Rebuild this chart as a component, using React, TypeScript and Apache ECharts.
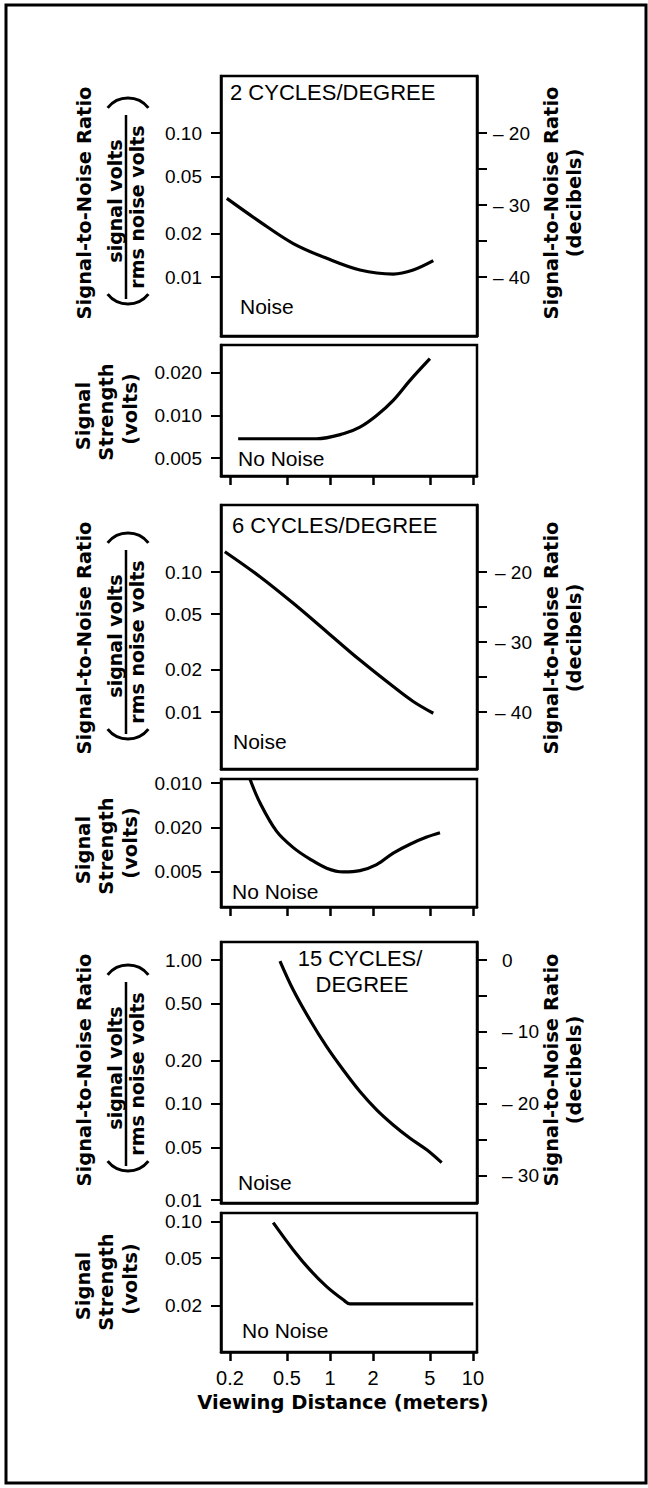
import React, { useEffect, useRef } from 'react';
import * as echarts from 'echarts';

// ---------- data ----------
const xTickValues = [0.2, 0.5, 1, 2, 5, 10];
const xTickLabels = ['0.2', '0.5', '1', '2', '5', '10'];

// 2 cycles/degree
const snr2Dist = [0.19, 0.324, 0.554, 0.948, 1.62, 2.77, 3.82, 5.28];
const snr2Ratio = [0.0352, 0.0242, 0.0171, 0.0135, 0.0112, 0.0105, 0.0112, 0.013];
const sig2Dist = [0.228, 0.5, 0.807, 1.239, 1.62, 2.12, 2.77, 3.63, 5.0];
const sig2Volts = [0.00684, 0.00684, 0.00684, 0.00742, 0.00827, 0.01, 0.0128, 0.0177, 0.0252];

// 6 cycles/degree
const snr6Dist = [0.184, 0.324, 0.554, 0.948, 1.62, 2.77, 3.82, 5.28];
const snr6Ratio = [0.1396, 0.0926, 0.0598, 0.0375, 0.0235, 0.0152, 0.0119, 0.0098];
const sig6Dist = [0.276, 0.324, 0.424, 0.554, 0.725, 0.948, 1.239, 1.62, 2.12, 2.77, 3.63, 4.75, 5.88];
const sig6Volts = [0.0212, 0.0147, 0.0094, 0.0073, 0.0061, 0.0053, 0.005, 0.0051, 0.0056, 0.0067, 0.0077, 0.0086, 0.0092];

// 15 cycles/degree
const snr15Dist = [0.447, 0.554, 0.725, 0.948, 1.239, 1.62, 2.12, 2.77, 3.63, 4.75, 6.04];
const snr15Ratio = [0.984, 0.619, 0.383, 0.25, 0.172, 0.122, 0.091, 0.0715, 0.0578, 0.048, 0.0391];
const sig15Dist = [0.401, 0.554, 0.725, 0.948, 1.239, 1.38, 3.0, 10.05];
const sig15Volts = [0.0987, 0.0585, 0.0399, 0.029, 0.0225, 0.0208, 0.0208, 0.0208];

// tick values / labels
const snrTicks = [0.01, 0.02, 0.05, 0.1];
const snrTickLabels = ['0.01', '0.02', '0.05', '0.10'];
const sig2Ticks = [0.005, 0.01, 0.02];
const sig2TickLabels = ['0.005', '0.010', '0.020'];
const sig6Ticks = [0.005, 0.01, 0.02];
const sig6TickLabels = ['0.005', '0.020', '0.010'];
const snr15Ticks = [0.0215, 0.05, 0.1, 0.2, 0.5, 1.0];
const snr15TickLabels = ['0.01', '0.05', '0.10', '0.20', '0.50', '1.00'];
const sig15Ticks = [0.02, 0.05, 0.1];
const sig15TickLabels = ['0.02', '0.05', '0.10'];
const dbTicksA = [-40, -35, -30, -25, -20];
const dbLabelsA = [-40, -30, -20];
const dbTicksB = [-30, -25, -20, -15, -10, -5, 0];
const dbLabelsB = [-30, -20, -10, 0];

const cycleLabels = ['2 CYCLES/DEGREE', '6 CYCLES/DEGREE', '15 CYCLES/', 'DEGREE'];

// ---------- layout ----------
const X_MIN = 0.173;
const X_MAX = 10.67;
const GRID_LEFT = 221;
const GRID_W = 256;

const BOLD = "'DejaVu Sans', sans-serif";
const REG = "'Liberation Sans', Arial, Helvetica, sans-serif";

type Panel = {
  top: number; height: number; yMin: number; yMax: number;
  dist: number[]; vals: number[]; ticks: number[]; labels: string[];
  db?: { ticks: number[]; labels: number[]; margin: number };
  xTicks: boolean; xLabels: boolean;
};

const panels: Panel[] = [
  { top: 76, height: 260, yMin: 0.0039, yMax: 0.249, dist: snr2Dist, vals: snr2Ratio, ticks: snrTicks, labels: snrTickLabels, db: { ticks: dbTicksA, labels: dbLabelsA, margin: 16 }, xTicks: false, xLabels: false },
  { top: 345, height: 131, yMin: 0.00373, yMax: 0.0315, dist: sig2Dist, vals: sig2Volts, ticks: sig2Ticks, labels: sig2TickLabels, xTicks: true, xLabels: false },
  { top: 505, height: 264, yMin: 0.00392, yMax: 0.301, dist: snr6Dist, vals: snr6Ratio, ticks: snrTicks, labels: snrTickLabels, db: { ticks: dbTicksA, labels: dbLabelsA, margin: 18 }, xTicks: false, xLabels: false },
  { top: 779, height: 128, yMin: 0.00289, yMax: 0.0213, dist: sig6Dist, vals: sig6Volts, ticks: sig6Ticks, labels: sig6TickLabels, xTicks: true, xLabels: false },
  { top: 942, height: 261, yMin: 0.0205, yMax: 1.334, dist: snr15Dist, vals: snr15Ratio, ticks: snr15Ticks, labels: snr15TickLabels, db: { ticks: dbTicksB, labels: dbLabelsB, margin: 25 }, xTicks: false, xLabels: false },
  { top: 1213, height: 139, yMin: 0.00828, yMax: 0.1188, dist: sig15Dist, vals: sig15Volts, ticks: sig15Ticks, labels: sig15TickLabels, xTicks: true, xLabels: true },
];

function labelFor(ticks: number[], labels: string[]) {
  return (v: number) => {
    const i = ticks.findIndex((t) => Math.abs(Math.log10(t) - Math.log10(v)) < 1e-3);
    return i >= 0 ? labels[i] : '';
  };
}

function txt(x: number, y: number, text: string, opts: any = {}) {
  const size = opts.size ?? 19.5;
  const bold = opts.bold ?? true;
  const align = opts.align ?? 'center';
  return {
    type: 'text',
    x,
    y,
    rotation: opts.rot ?? 0,
    silent: true,
    style: {
      text,
      fill: '#000',
      fontSize: size,
      fontFamily: bold ? BOLD : REG,
      fontWeight: bold ? 'bold' : 'normal',
      align,
      verticalAlign: 'middle',
      textAlign: align,
      textVerticalAlign: 'middle',
    },
  };
}

const R = Math.PI / 2;
const PAREN_R = 26;
const PAREN_HALF = 0.9;

function paren(cx: number, apexY: number, up: boolean) {
  const cy = up ? apexY + PAREN_R : apexY - PAREN_R;
  const mid = up ? -Math.PI / 2 : Math.PI / 2;
  return {
    type: 'arc', silent: true,
    shape: { cx, cy, r: PAREN_R, startAngle: mid - PAREN_HALF, endAngle: mid + PAREN_HALF, clockwise: true },
    style: { stroke: '#000', lineWidth: 3, fill: 'none' },
  };
}

function snrSide(cy: number) {
  return [
    txt(84, cy, 'Signal-to-Noise Ratio', { rot: R }),
    txt(115, cy - 2, 'signal volts', { rot: R, size: 19 }),
    { type: 'line', silent: true, shape: { x1: 126, y1: cy - 88, x2: 126, y2: cy + 96 }, style: { stroke: '#000', lineWidth: 2.5 } },
    txt(137, cy + 4, 'rms noise volts', { rot: R, size: 19 }),
    paren(128, cy - 105, true),
    paren(128, cy + 101, false),
    txt(551, cy, 'Signal-to-Noise Ratio', { rot: R }),
    txt(574, cy, '(decibels)', { rot: R }),
  ];
}

function sigSide(cy: number) {
  return [
    txt(83, cy + 4, 'Signal', { rot: R }),
    txt(106, cy, 'Strength', { rot: R }),
    txt(130, cy - 3, '(volts)', { rot: R }),
  ];
}

function buildOption() {
  const grid: any[] = [];
  const xAxis: any[] = [];
  const yAxis: any[] = [];
  const series: any[] = [];
  const tickFont = { color: '#000', fontSize: 19, fontFamily: REG };

  panels.forEach((p, i) => {
    grid.push({
      left: GRID_LEFT, top: p.top, width: GRID_W, height: p.height,
      show: true, borderColor: '#000', borderWidth: 2.5, backgroundColor: 'transparent',
      containLabel: false, outerBoundsMode: 'none',
    });
    xAxis.push({
      type: 'log', logBase: 10, gridIndex: i, min: X_MIN, max: X_MAX,
      axisLine: { show: true, onZero: false, lineStyle: { color: '#000', width: 2.5 } },
      axisTick: { show: p.xTicks, length: 9, lineStyle: { color: '#000', width: 2.5 }, customValues: xTickValues },
      axisLabel: { show: p.xLabels, customValues: xTickValues, margin: 16, ...tickFont, fontSize: 20, formatter: labelFor(xTickValues, xTickLabels) },
      splitLine: { show: false }, minorTick: { show: false }, minorSplitLine: { show: false },
    });
    const leftIdx = yAxis.length;
    yAxis.push({
      type: 'log', logBase: 10, gridIndex: i, position: 'left', min: p.yMin, max: p.yMax,
      axisLine: { show: true, onZero: false, lineStyle: { color: '#000', width: 2.5 } },
      axisTick: { show: true, length: 10, lineStyle: { color: '#000', width: 2 }, customValues: p.ticks },
      axisLabel: { show: true, customValues: p.ticks, margin: 19, ...tickFont, formatter: labelFor(p.ticks, p.labels) },
      splitLine: { show: false }, minorTick: { show: false },
    });
    if (p.db) {
      const db = p.db;
      yAxis.push({
        type: 'value', gridIndex: i, position: 'right',
        min: 20 * Math.log10(p.yMin), max: 20 * Math.log10(p.yMax),
        axisLine: { show: true, onZero: false, lineStyle: { color: '#000', width: 2.5 } },
        axisTick: { show: true, length: 10, lineStyle: { color: '#000', width: 2 }, customValues: db.ticks },
        axisLabel: {
          show: true, customValues: db.labels, margin: db.margin, ...tickFont,
          formatter: (v: number) => (Math.round(v) === 0 ? '0' : '\u2013 ' + Math.abs(Math.round(v))),
        },
        splitLine: { show: false },
      });
    }
    series.push({
      type: 'line', xAxisIndex: i, yAxisIndex: leftIdx,
      data: p.dist.map((d, k) => [d, p.vals[k]]),
      showSymbol: false, symbol: 'none', smooth: 0.35,
      lineStyle: { color: '#000', width: 3.2 }, silent: true, clip: true,
    });
  });

  const graphic: any[] = [
    { type: 'rect', silent: true, shape: { x: 6, y: 5, width: 640, height: 1478 }, style: { fill: 'none', stroke: '#000', lineWidth: 3 } },
    // panel captions
    txt(230, 92, cycleLabels[0], { bold: false, size: 22, align: 'left' }),
    txt(240, 306, 'Noise', { bold: false, size: 21, align: 'left' }),
    txt(238, 458, 'No Noise', { bold: false, size: 21, align: 'left' }),
    txt(232, 525, cycleLabels[1], { bold: false, size: 22, align: 'left' }),
    txt(233, 741, 'Noise', { bold: false, size: 21, align: 'left' }),
    txt(232, 891, 'No Noise', { bold: false, size: 21, align: 'left' }),
    txt(360, 958, cycleLabels[2], { bold: false, size: 22 }),
    txt(362, 984, cycleLabels[3], { bold: false, size: 22 }),
    txt(238, 1182, 'Noise', { bold: false, size: 21, align: 'left' }),
    txt(242, 1330, 'No Noise', { bold: false, size: 21, align: 'left' }),
    // axis titles
    ...snrSide(203),
    ...sigSide(412),
    ...snrSide(638),
    ...sigSide(846),
    ...snrSide(1070),
    ...sigSide(1282),
    txt(343, 1402, 'Viewing Distance (meters)', {}),
  ];

  return {
    animation: false,
    backgroundColor: '#fff',
    grid,
    xAxis,
    yAxis,
    series,
    graphic,
  };
}

export default function App() {
  const ref = useRef<HTMLDivElement>(null);
  useEffect(() => {
    const chart = echarts.init(ref.current!, null, { renderer: 'svg' });
    chart.setOption(buildOption() as any);
    return () => chart.dispose();
  }, []);
  return (
    <div
      ref={ref}
      style={{ position: 'absolute', left: 0, top: 0, width: 648, height: 1488, background: '#fff' }}
    />
  );
}
